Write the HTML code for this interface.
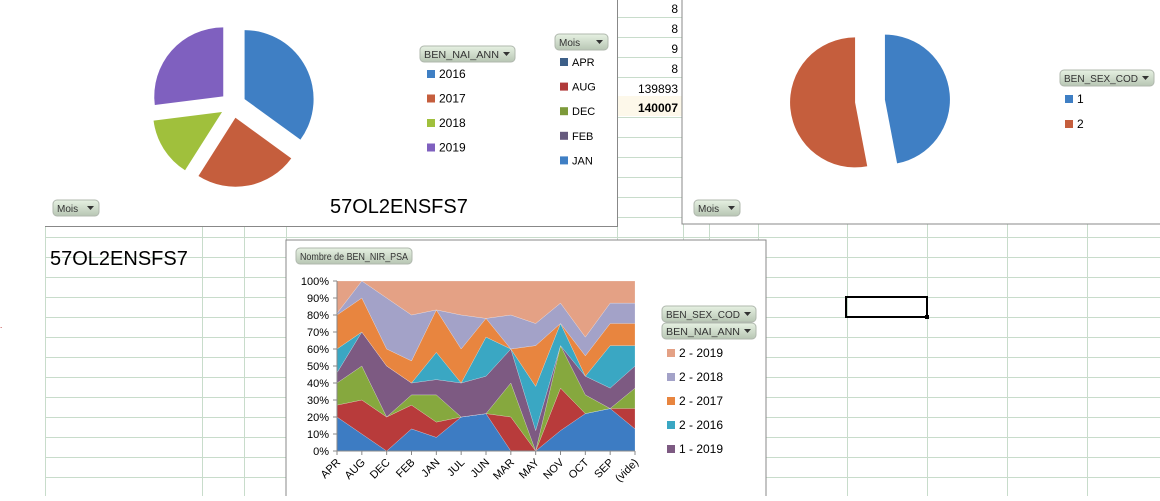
<!DOCTYPE html>
<html><head><meta charset="utf-8"><style>
body{margin:0;width:1160px;height:496px;overflow:hidden;background:#fff;font-family:"Liberation Sans",sans-serif}
svg text{font-family:"Liberation Sans",sans-serif}
</style></head><body>
<svg id="s" width="1160" height="496" xmlns="http://www.w3.org/2000/svg">
<defs><linearGradient id="btn" x1="0" y1="0" x2="0" y2="1"><stop offset="0" stop-color="#e6f1e2"/><stop offset="1" stop-color="#b8c6b4"/></linearGradient></defs>
<g id="grid"></g>
<g font-size="12" text-anchor="end" fill="#000">
<rect x="617" y="96" width="66" height="20" fill="#fdf8ea"/>
<text x="678" y="13">8</text><text x="678" y="33">8</text><text x="678" y="53">9</text><text x="678" y="73">8</text>
<text x="678" y="93">139893</text><text x="678" y="112" font-weight="bold">140007</text>
</g>
<rect x="846" y="297" width="81" height="20" fill="none" stroke="#000" stroke-width="2"/>
<rect x="925" y="315" width="4" height="4" fill="#000"/>
<text x="50" y="265" font-size="20">57OL2ENSFS7</text>
<text x="0" y="328" font-size="8" fill="#a00">.</text>

<g>
<rect x="45" y="-1" width="572" height="227" fill="#fff"/>
<path d="M45,226.5H617.5V0" fill="none" stroke="#888"/>
<g id="pie1"></g>
<text x="330" y="213" font-size="20">57OL2ENSFS7</text>
</g>
<g>
<rect x="682" y="-1" width="479" height="225" fill="#fff" stroke="#888"/>
<g id="pie2"></g>
</g>
<g>
<rect x="286" y="240" width="480" height="260" fill="#fff" stroke="#888"/>
<g id="area"></g>
</g>
<g id="ui"></g>
</svg>
<script>
const NS="http://www.w3.org/2000/svg";
function mk(p,tag,at){const e=document.createElementNS(NS,tag);for(const k in at)e.setAttribute(k,at[k]);p.appendChild(e);return e;}
const grid=document.getElementById('grid');
for(let y=17;y<496;y+=20){mk(grid,'line',{x1:45,x2:1160,y1:y+0.5,y2:y+0.5,stroke:'#c8dccb'});}
[45,202,244,286,617,683,709,758,847,927,1007,1087].forEach(x=>{mk(grid,'line',{x1:x+0.5,x2:x+0.5,y1:0,y2:496,stroke:'#c8dccb'});});

const pie1Labels=['2016','2017','2018','2019'];
const pie1Values=[35,24,14,27];
const pie1Colors=['#3f7fc4','#c55e3d','#a0c03c','#7f60bf'];
const pie2Labels=['1','2'];
const pie2Values=[47,53];
const pie2Colors=['#3f7fc4','#c55e3d'];
function drawPie(g,vals,cols,cx,cy,r,exp,name){
  const tot=vals.reduce((a,b)=>a+b,0);let a0=0;
  vals.forEach((v,i)=>{const a1=a0+v/tot*2*Math.PI,am=(a0+a1)/2;
    const ox=cx+exp*Math.sin(am),oy=cy-exp*Math.cos(am);
    const x0=ox+r*Math.sin(a0),y0=oy-r*Math.cos(a0),x1=ox+r*Math.sin(a1),y1=oy-r*Math.cos(a1);
    const p=mk(g,'path',{d:`M${ox},${oy}L${x0},${y0}A${r},${r} 0 ${a1-a0>Math.PI?1:0} 1 ${x1},${y1}Z`,fill:cols[i]});
    
    
    a0=a1;});
}
drawPie(document.getElementById('pie1'),pie1Values,pie1Colors,233,105,69,13,'year');
drawPie(document.getElementById('pie2'),pie2Values,pie2Colors,870,101,65,15,'sex');

const cats=['APR','AUG','DEC','FEB','JAN','JUL','JUN','MAR','MAY','NOV','OCT','SEP','(vide)'];
const yTicks=['0%','10%','20%','30%','40%','50%','60%','70%','80%','90%','100%'];
const seriesNames=['1 - 2016','1 - 2017','1 - 2018','1 - 2019','2 - 2016','2 - 2017','2 - 2018','2 - 2019'];
const sBlue=[20,10,0,13,8,20,22,0,0,12,22,25,13];
const sRed=[7,20,20,14,9,0,0,20,0,25,0,0,12];
const sGreen=[13,20,0,6,16,0,0,20,0,25,11,0,12];
const sPurple=[6,20,30,7,9,20,22,20,12,0,11,12,13];
const sTeal=[14,0,0,0,16,0,23,0,26,13,0,25,12];
const sOrange=[20,20,10,13,25,20,11,0,24,0,12,13,13];
const sLavender=[1,10,30,27,0,20,0,20,13,12,11,12,12];
const sSalmon=[19,0,10,20,17,20,22,20,25,13,33,13,13];
const series=[sBlue,sRed,sGreen,sPurple,sTeal,sOrange,sLavender,sSalmon];
const sCols=['#3d7cc3','#b83b3b','#86a83e','#7d5a82','#3aa7c3','#e8853f','#a3a2c8','#e4a185'];
const X0=337,X1=635,Y0=451,Y1=281;
const xs=i=>X0+i*(X1-X0)/(cats.length-1);
const ys=v=>Y0-v/100*(Y0-Y1);
const area=document.getElementById('area');
const totals=cats.map((c,i)=>series.reduce((a,s)=>a+s[i],0));
let base=cats.map(()=>0);
series.forEach((s,k)=>{
  const top=base.map((b,i)=>b+s[i]/totals[i]*100);
  let d='M'+top.map((v,i)=>xs(i)+','+ys(v)).join('L');
  for(let i=cats.length-1;i>=0;i--)d+='L'+xs(i)+','+ys(base[i]);
  const p=mk(area,'path',{d:d+'Z',fill:sCols[k],stroke:'#fff','stroke-width':0.4,'stroke-opacity':0.5});
  
  
  base=top;});
mk(area,'line',{x1:X0,x2:X0,y1:Y1,y2:Y0,stroke:'#888'});
mk(area,'line',{x1:X0,x2:X1,y1:Y0,y2:Y0,stroke:'#888'});
yTicks.forEach((t,i)=>{const y=ys(i*10);
  mk(area,'line',{x1:X0-4,x2:X0,y1:y,y2:y,stroke:'#888'});
  const e=mk(area,'text',{x:X0-8,y:y+4,'font-size':11,'text-anchor':'end'});e.textContent=t;
  
  });
cats.forEach((c,i)=>{const x=xs(i);
  mk(area,'line',{x1:x,x2:x,y1:Y0,y2:Y0+4,stroke:'#888'});
  const e=mk(area,'text',{x:x+4,y:Y0+12,'font-size':11,'text-anchor':'end',transform:`rotate(-45 ${x+4} ${Y0+12})`});e.textContent=c;
  
  });

const ui=document.getElementById('ui');
function button(x,y,w,label,name,arrow=true){
  const g=mk(ui,'g',{});
  
  
  mk(g,'rect',{x:x,y:y,width:w,height:16,rx:4,fill:'url(#btn)',stroke:'#b0b8ae'});
  const tw=w-(arrow?20:8);
  const t=mk(g,'text',{x:x+4,y:y+12,'font-size':10,fill:'#333'});t.textContent=label;
  if(label.length>5){t.setAttribute('textLength',tw);t.setAttribute('lengthAdjust','spacingAndGlyphs');}
  if(arrow)mk(g,'path',{d:`M${x+w-12},${y+6}h7l-3.5,4z`,fill:'#333'});
}
function legend(x,y0,step,labels,cols,name,fs){
  labels.forEach((l,i)=>{const g=mk(ui,'g',{});
    
    
    mk(g,'rect',{x:x,y:y0+i*step-4,width:8,height:8,fill:cols[i]});
    const t=mk(g,'text',{x:x+12,y:y0+i*step+4,'font-size':fs});t.textContent=l;});
}
button(420,46,95,'BEN_NAI_ANN','year-field-button');
legend(427,74,24.5,pie1Labels,pie1Colors,'year-legend',12);
button(555,34,53,'Mois','month-field-button');
legend(560,62,24.6,['APR','AUG','DEC','FEB','JAN'],['#3d5f88','#b03a3a','#7d9a3a','#665a7e','#3f7fc4'],'month-legend',11);
button(53,200,46,'Mois','mois-axis-button');
button(1060,70,94,'BEN_SEX_COD','sex-field-button');
legend(1065,99,25,pie2Labels,pie2Colors,'sex-legend',12);
button(694,200,46,'Mois','mois-axis-button-2');
button(296,248,116,'Nombre de BEN_NIR_PSA','value-field-button',false);
button(662,306,94,'BEN_SEX_COD','area-sex-button');
button(662,323,94,'BEN_NAI_ANN','area-year-button');
legend(667,353,24,['2 - 2019','2 - 2018','2 - 2017','2 - 2016','1 - 2019'],[sCols[7],sCols[6],sCols[5],sCols[4],sCols[3]],'area-legend',12);
</script>
</body></html>
